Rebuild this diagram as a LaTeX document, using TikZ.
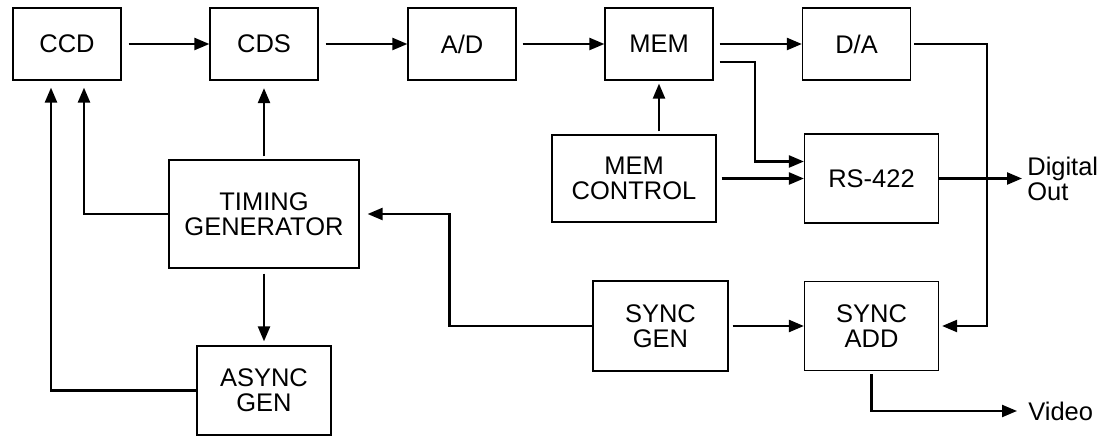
\documentclass[tikz,border=0pt]{standalone}
\usepackage{fontspec}
\setmainfont{Liberation Sans}
\usetikzlibrary{arrows.meta, calc}

\begin{document}
\begin{tikzpicture}[
  blk/.style={draw, line width=0.7pt, minimum width=2.16cm, minimum height=1.44cm, align=center, inner sep=2pt, font=\fontsize{14.5}{14.2}\selectfont},
  sig/.style={line width=1.3pt, -{Triangle[length=0.3cm, width=0.24cm]}},
  lbl/.style={anchor=west, align=left, inner sep=0pt, font=\fontsize{14.5}{14.2}\selectfont}
]
  \useasboundingbox (0,0) rectangle (22.34,8.72);

  % top row
  \node[blk] (ccd) at (1.34, 7.84) {CCD};
  \node[blk] (cds) at (5.28, 7.84) {CDS};
  \node[blk] (ad)  at (9.24, 7.84) {A/D};
  \node[blk] (mem) at (13.18, 7.84) {MEM};
  \node[blk] (da)  at (17.13, 7.84) {D/A};

  % middle and bottom
  \node[blk, minimum width=3.8cm, minimum height=2.16cm] (timing) at (5.28, 4.44) {TIMING\\GENERATOR};
  \node[blk, minimum width=2.68cm, minimum height=1.78cm] (async) at (5.28, 0.91) {ASYNC\\GEN};
  \node[blk, minimum width=3.28cm, minimum height=1.74cm] (memctl) at (12.68, 5.15) {MEM\\CONTROL};
  \node[blk, minimum width=2.68cm, minimum height=1.78cm] (rs) at (17.43, 5.15) {RS-422};
  \node[blk, minimum width=2.7cm, minimum height=1.8cm] (sgen) at (13.21, 2.2) {SYNC\\GEN};
  \node[blk, minimum width=2.68cm, minimum height=1.78cm] (sadd) at (17.43, 2.2) {SYNC\\ADD};

  % outputs
  \node[lbl] (dout) at (20.54, 5.15) {Digital\\Out};
  \node[lbl] (video) at (20.56, 0.5) {Video};

  % data path
  \draw[sig, shorten <=0.14cm] (ccd) -- (cds);
  \draw[sig, shorten <=0.14cm] (cds) -- (ad);
  \draw[sig, shorten <=0.12cm] (ad) -- (mem);
  \draw[sig, shorten <=0.12cm] (mem) -- (da);
  \draw[sig, shorten <=0.12cm] ([yshift=-0.36cm]mem.east) -| ([xshift=-0.98cm, yshift=0.34cm]rs.west) -- ([yshift=0.34cm]rs.west);
  \draw[sig, shorten <=0.06cm, shorten >=0.06cm] (mem |- memctl.north) -- (mem.south);
  \draw[sig, shorten <=0.1cm] (memctl) -- (rs);
  \draw[sig] (rs.east) -- ([xshift=-0.1cm]dout.west);
  \draw[sig, shorten <=0.06cm, shorten >=0.06cm] (da.east) -| ([xshift=0.96cm]sadd.east) -- (sadd.east);
  \draw[sig, shorten <=0.08cm] (sgen) -- (sadd);
  \draw[sig, shorten <=0.06cm] (sadd.south) |- ([xshift=-0.22cm]video.west);

  % timing
  \draw[sig, shorten <=0.06cm, shorten >=0.15cm] (timing) -- (cds);
  \draw[sig, shorten <=0.1cm, shorten >=0.08cm] (timing) -- (async);
  \draw[sig, shorten >=0.14cm] (timing.west) -| ([xshift=0.34cm]ccd.south);
  \draw[sig, shorten >=0.14cm] (async.west) -| ([xshift=-0.32cm]ccd.south);
  \draw[sig, shorten >=0.16cm] (sgen.west) -| ([xshift=1.8cm]timing.east) -- (timing.east);
\end{tikzpicture}
\end{document}
